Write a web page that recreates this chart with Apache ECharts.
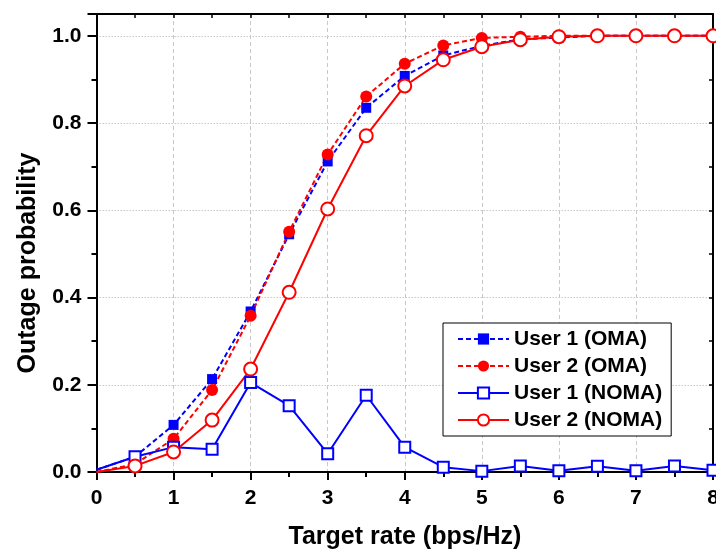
<!DOCTYPE html>
<html>
<head>
<meta charset="utf-8">
<script src="https://cdn.jsdelivr.net/npm/echarts@6/dist/echarts.min.js"></script>
<style>
  html, body { margin: 0; padding: 0; background: #fff; }
  #chart { width: 716px; height: 554px; }
</style>
</head>
<body>
<div id="chart"></div>
<script>
// Target rate (bps/Hz)
const rates = [0, 0.5, 1, 1.5, 2, 2.5, 3, 3.5, 4, 4.5, 5, 5.5, 6, 6.5, 7, 7.5, 8];

// Outage probability per user and access scheme
const user1Oma  = [0.005, 0.035, 0.108, 0.213, 0.368, 0.545, 0.712, 0.835, 0.908, 0.955, 0.977, 0.992, 0.996, 1.0, 1.0, 1.0, 1.0];
const user2Oma  = [0, 0.018, 0.076, 0.188, 0.358, 0.551, 0.728, 0.861, 0.936, 0.978, 0.995, 0.998, 1.0, 1.0, 1.0, 1.0, 1.0];
const user1Noma = [0.005, 0.035, 0.057, 0.052, 0.205, 0.152, 0.042, 0.176, 0.057, 0.011, 0.002, 0.014, 0.003, 0.013, 0.003, 0.014, 0.004];
const user2Noma = [0, 0.014, 0.046, 0.119, 0.236, 0.412, 0.603, 0.771, 0.885, 0.945, 0.975, 0.991, 0.998, 1.0, 1.0, 1.0, 1.0];

const seriesNames = ['User 1 (OMA)', 'User 2 (OMA)', 'User 1 (NOMA)', 'User 2 (NOMA)'];
const yTicks = [0, 0.2, 0.4, 0.6, 0.8, 1.0];

const FONT = '"Liberation Sans", Arial, sans-serif';
const BLUE = '#0000ff';
const RED = '#ff0000';

// The point at rate 0 carries no marker, only the line start
const pairs = arr => rates.map((x, i) => (x === 0 ? { value: [x, arr[i]], symbol: 'none' } : [x, arr[i]]));

const chart = echarts.init(document.getElementById('chart'), null, { renderer: 'canvas' });

const axisLabelStyle = { fontFamily: FONT, fontSize: 21, fontWeight: 'bold', color: '#000' };

chart.setOption({
  animation: false,
  backgroundColor: '#fff',
  grid: { left: 96.5, right: 3, top: 14, bottom: 82, containLabel: false, outerBoundsMode: 'none' },
  xAxis: [
    {
      type: 'value', min: 0, max: 8, interval: 1, position: 'bottom',
      axisLine: { show: true, onZero: false, lineStyle: { color: '#000', width: 2 } },
      axisTick: { show: true, inside: false, length: 8, lineStyle: { color: '#000', width: 2 } },
      minorTick: { show: true, splitNumber: 2, length: 5, lineStyle: { color: '#000', width: 2 } },
      axisLabel: Object.assign({ margin: 16 }, axisLabelStyle),
      splitLine: { show: true, lineStyle: { color: '#c8c8c8', width: 1, type: [4, 3] } }
    },
    {
      type: 'value', min: 0, max: 8, interval: 1, position: 'top',
      axisLine: { show: true, onZero: false, lineStyle: { color: '#000', width: 2 } },
      axisTick: { show: true, inside: true, length: 4, lineStyle: { color: '#000', width: 1.5 } },
      minorTick: { show: true, splitNumber: 2, length: 4, lineStyle: { color: '#000', width: 1.5 } },
      axisLabel: { show: false },
      splitLine: { show: false }
    }
  ],
  yAxis: [
    {
      type: 'value', min: 0, max: 1.05, interval: 0.2, position: 'left',
      axisLine: { show: true, onZero: false, lineStyle: { color: '#000', width: 2 } },
      axisTick: { show: true, inside: false, length: 9, lineStyle: { color: '#000', width: 2 } },
      minorTick: { show: true, splitNumber: 2, length: 5, lineStyle: { color: '#000', width: 2 } },
      axisLabel: Object.assign({
        margin: 15,
        showMaxLabel: false,
        formatter: v => (yTicks.some(t => Math.abs(t - v) < 1e-9) ? v.toFixed(1) : '')
      }, axisLabelStyle),
      splitLine: { show: true, lineStyle: { color: '#c8c8c8', width: 1, type: [1.5, 1.5] } }
    },
    {
      type: 'value', min: 0, max: 1.05, interval: 0.2, position: 'right',
      axisLine: { show: true, onZero: false, lineStyle: { color: '#000', width: 2 } },
      axisTick: { show: true, inside: true, length: 4, lineStyle: { color: '#000', width: 1.5 } },
      minorTick: { show: true, splitNumber: 2, length: 4, lineStyle: { color: '#000', width: 1.5 } },
      axisLabel: { show: false },
      splitLine: { show: false }
    }
  ],
  legend: {
    orient: 'vertical',
    left: 443, top: 323,
    padding: [5, 9, 5, 14],
    itemGap: 5,
    itemWidth: 51,
    itemHeight: 14,
    backgroundColor: '#fff',
    borderColor: '#000',
    borderWidth: 1,
    borderRadius: 0,
    textStyle: { fontFamily: FONT, fontSize: 21, fontWeight: 'bold', color: '#000', lineHeight: 22 },
    data: seriesNames
  },
  graphic: [
    {
      type: 'text', x: 405, y: 525,
      style: { text: 'Target rate (bps/Hz)', font: 'bold 25px ' + FONT, fill: '#000', align: 'center', verticalAlign: 'top' }
    },
    {
      type: 'text', x: 16, y: 263, rotation: Math.PI / 2,
      style: { text: 'Outage probability', font: 'bold 25px ' + FONT, fill: '#000', align: 'center', verticalAlign: 'top' }
    }
  ],
  series: [
    {
      name: seriesNames[0], type: 'line', data: pairs(user1Oma),
      symbol: 'rect', symbolSize: 10,
      lineStyle: { color: BLUE, width: 2, type: [5, 3] },
      itemStyle: { color: BLUE }
    },
    {
      name: seriesNames[1], type: 'line', data: pairs(user2Oma),
      symbol: 'circle', symbolSize: 12,
      lineStyle: { color: RED, width: 2, type: [5, 3] },
      itemStyle: { color: RED }
    },
    {
      name: seriesNames[2], type: 'line', data: pairs(user1Noma),
      symbol: 'emptyRect', symbolSize: 11,
      lineStyle: { color: BLUE, width: 2 },
      itemStyle: { color: BLUE, borderWidth: 1.5 }
    },
    {
      name: seriesNames[3], type: 'line', data: pairs(user2Noma),
      symbol: 'emptyCircle', symbolSize: 13,
      lineStyle: { color: RED, width: 2 },
      itemStyle: { color: RED, borderWidth: 1.5 }
    }
  ]
});
</script>
</body>
</html>
